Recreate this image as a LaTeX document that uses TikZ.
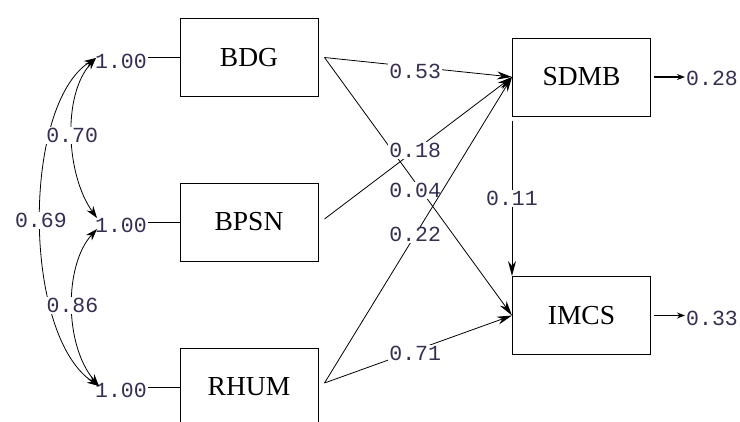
\documentclass[tikz,border=0pt]{standalone}
\usepackage{fontspec}
\setmainfont{Liberation Serif}
\newfontfamily\numfont{Liberation Mono}
\usetikzlibrary{arrows.meta}
\definecolor{numcol}{RGB}{55,45,85}
\begin{document}
\begin{tikzpicture}[x=1pt,y=-1pt,
  box/.style={draw,line width=1pt,minimum width=138pt,minimum height=78pt,inner sep=0pt,font=\fontsize{27.5}{30}\selectfont},
  num/.style={font=\numfont\fontsize{21.5}{24}\selectfont,text=numcol,inner sep=1pt},
  lbl/.style={num,fill=white,pos=0.484},
  thinln/.style={line width=0.9pt},
  reg/.style={line width=0.8pt,-{Stealth[length=15pt,width=8pt]}},
  cov/.style={line width=0.8pt,{Stealth[length=12pt,width=8pt]}-{Stealth[length=12pt,width=8pt]}},
  err/.style={line width=1.3pt,-{Stealth[length=8pt,width=6pt]}}]
\useasboundingbox (0,0) rectangle (740,421);
% boxes
\node[box] (bdg)  at (249,57.5) {\raisebox{-2pt}{BDG}};
\node[box] (bpsn) at (249,222) {\raisebox{-2pt}{BPSN}};
\node[box] (rhum) at (249,387) {\raisebox{-2pt}{RHUM}};
\node[box] (sdmb) at (581.5,77) {\raisebox{-2pt}{SDMB}};
\node[box] (imcs) at (581.5,315.5) {\raisebox{-2pt}{IMCS}};
% variances
\node[num] (v1) at (121,61) {1.00};
\node[num] (v2) at (121,225) {1.00};
\node[num] (v3) at (121,390) {1.00};
\draw[thinln] (bdg.west) -- (bdg.west -| v1.east);
\draw[thinln] (bpsn.west) -- (bpsn.west -| v2.east);
\draw[thinln] (rhum.west) -- (rhum.west -| v3.east);
% covariance arcs
\coordinate (t1) at (96,58);
\coordinate (t2a) at (97,218);
\coordinate (t2b) at (97,229);
\coordinate (t3) at (99,386);
\draw[cov] (t1) .. controls (22,105) and (22,335) .. (t3) node[num,fill=white,pos=0.5] {0.69};
\draw[cov] (t1) .. controls (62,95) and (66,175) .. (t2a) node[num,fill=white,pos=0.5] {0.70};
\draw[cov] (t2b) .. controls (64,265) and (64,345) .. (t3) node[num,fill=white,pos=0.5] {0.86};
% starts of structural paths
\coordinate (s1) at ([xshift=6pt]bdg.east);
\coordinate (s2) at ([xshift=6pt,yshift=3pt]bpsn.east);
\coordinate (s3) at ([xshift=6pt,yshift=4pt]rhum.east);
\draw[reg] (s1) -- node[lbl,yshift=-4pt] {0.53} (sdmb.west);
\draw[reg] (s1) -- node[lbl,yshift=-8pt] {0.04} (imcs.west);
\draw[reg] (s2) -- node[lbl] {0.18} (sdmb.west);
\draw[reg] (s3) -- node[lbl] {0.22} (sdmb.west);
\draw[reg] (s3) -- node[lbl,yshift=-3pt] {0.71} (imcs.west);
\draw[reg] ([yshift=-4pt]sdmb.south west) -- node[num,fill=white,midway] {0.11} (imcs.north west);
% errors
\node[num] (e1) at (712,78) {0.28};
\node[num] (e2) at (712,318) {0.33};
\draw[err] ([xshift=3pt]sdmb.east) -- (sdmb.east -| e1.west);
\draw[err] ([xshift=3pt]imcs.east) -- (imcs.east -| e2.west);
\end{tikzpicture}
\end{document}
